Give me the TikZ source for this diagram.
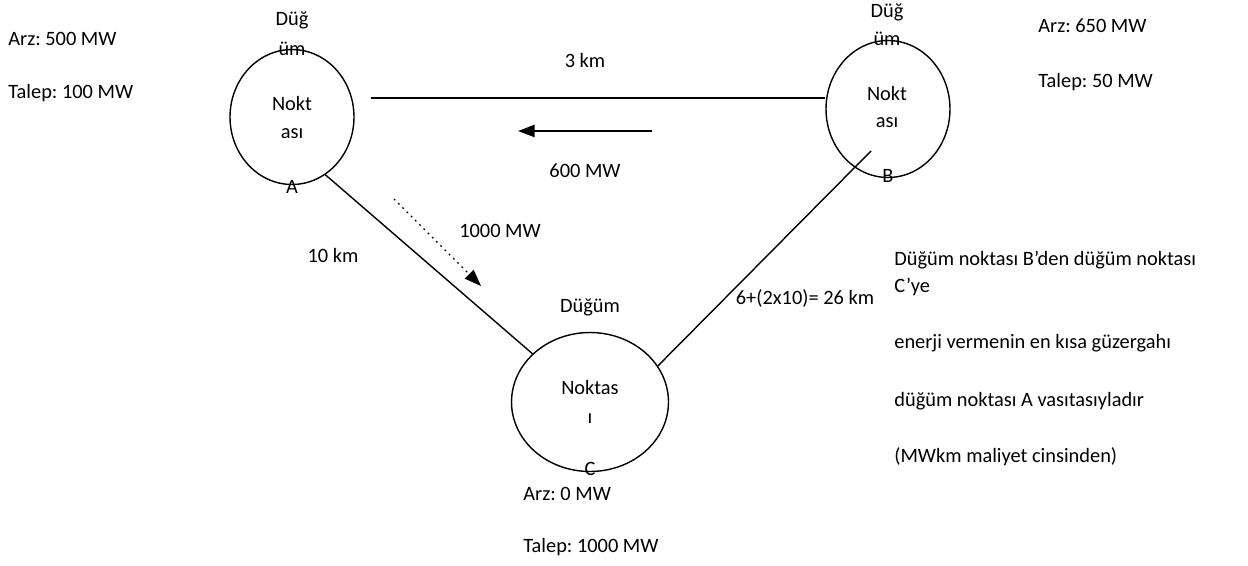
\documentclass[tikz,border=0pt]{standalone}
\usepackage{fontspec}
\setmainfont{Carlito}
\usetikzlibrary{arrows.meta,shapes.geometric}
\frenchspacing

\begin{document}
\begin{tikzpicture}[x=0.02cm,y=-0.02cm,>={Triangle[length=9.5pt,width=7pt]},
  every node/.style={font=\fontsize{11.6}{13}\selectfont,inner sep=0pt,
    text height=0.8em,text depth=0.2em},
  bus/.style={draw,ellipse,line width=0.8pt,minimum width=2.48cm,minimum height=2.7cm,
    text height=,text depth=},
  line/.style={line width=0.8pt},
  info/.style={anchor=west}]
  \useasboundingbox (0,0) rectangle (1248,565);

  % busbars
  \node[bus] (A) at (292,117) {};
  \node[bus,minimum height=2.74cm] (B) at (888,109) {};
  \node[bus,minimum width=3.14cm,minimum height=2.78cm] (C) at (590,402) {};

  \node (At1) at (292,20) {Düğ};
  \node (At2) at (292,50) {üm};
  \node (Ai1) at (292,105) {Nokt};
  \node (Ai2) at (292,133) {ası};
  \node (Al)  at (292,188) {A};

  \node (Bt1) at (887,12) {Düğ};
  \node (Bt2) at (887,40) {üm};
  \node (Bi1) at (887,95) {Nokt};
  \node (Bi2) at (887,122) {ası};
  \node (Bl)  at (888,177) {B};

  \node (Ct)  at (590,307) {Düğüm};
  \node (Ci1) at (590,389) {Noktas};
  \node (Ci2) at (590,418) {ı};
  \node (Cl)  at (590,470) {C};

  % lines
  \coordinate (ab1) at (371,98);
  \coordinate (bc1) at (871,151);
  \draw[line] (ab1) -- (B.west |- ab1);
  \draw[line] (A.-60) -- (C.140);
  \draw[line] (bc1) -- (C.28.6);

  % flows
  \coordinate (f1) at (652,131);
  \coordinate (f2) at (518,131);
  \coordinate (f3) at (394,199);
  \coordinate (f4) at (481,286);
  \draw[line,->] (f1) -- (f2);
  \draw[line,->,dash pattern=on 1pt off 2.4pt] (f3) -- (f4);

  \node (dab) at (585,62) {3 km};
  \node (pab) at (585,172) {600 MW};
  \node (pac) at (500,232) {1000 MW};
  \node (dac) at (333,257) {10 km};
  \node (dbc) at (805,299) {6+(2x10)= 26 km};

  % supply / demand
  \node[info] (Aarz) at (8,40) {Arz: 500 MW};
  \node[info] (Atal) at (8,93) {Talep: 100 MW};
  \node[info] (Barz) at (1038,27) {Arz: 650 MW};
  \node[info] (Btal) at (1038,82) {Talep: 50 MW};
  \node[info] (Carz) at (523,495) {Arz: 0 MW};
  \node[info] (Ctal) at (523,547) {Talep: 1000 MW};

  % note
  \node[info] (n1) at (894,260) {Düğüm noktası B’den düğüm noktası};
  \node[info] (n2) at (894,287) {C’ye};
  \node[info] (n3) at (894,343) {enerji vermenin en kısa güzergahı};
  \node[info] (n4) at (894,401) {düğüm noktası A vasıtasıyladır};
  \node[info] (n5) at (894,457) {(MWkm maliyet cinsinden)};
\end{tikzpicture}
\end{document}
